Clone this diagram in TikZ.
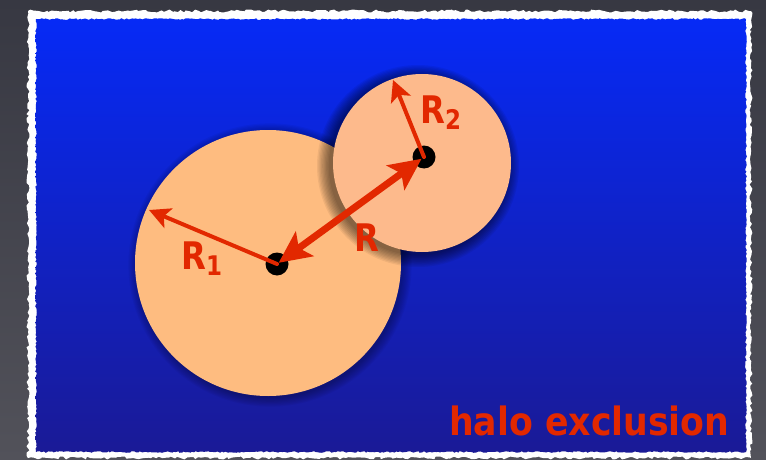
\documentclass[tikz,border=0pt]{standalone}
\usepackage{fontspec}
\newfontfamily\comicfont{DejaVu Sans}
\usetikzlibrary{arrows.meta, decorations.pathmorphing}
\definecolor{slatetop}{RGB}{55,56,66}
\definecolor{slatebottom}{RGB}{82,82,90}
\definecolor{deepblue}{RGB}{6,42,246}
\definecolor{navyblue}{RGB}{26,26,150}
\definecolor{halobig}{RGB}{254,188,128}
\definecolor{halosmall}{RGB}{253,186,140}
\definecolor{arrowred}{RGB}{226,40,0}

\begin{document}
\begin{tikzpicture}[x=1pt, y=-1pt, line cap=round, line join=round,
  halo/.style={circle, inner sep=0pt},
  centre/.style={circle, fill=black, inner sep=0pt, minimum size=23pt},
  thin arrow/.style={arrowred, line width=4pt, -{Stealth[length=21pt, width=21pt, inset=5pt]}},
  thick arrow/.style={arrowred, line width=7pt, {Stealth[length=32pt, width=30pt, inset=7pt]}-{Stealth[length=32pt, width=30pt, inset=7pt]}},
  lettering/.style={text=arrowred, font=\comicfont\bfseries\fontsize{38}{38}\selectfont, anchor=base west, inner sep=0pt}]
  \pgfmathsetseed{7}
  \useasboundingbox (0,0) rectangle (766,460);

  % Backdrop and torn frame
  \shade[top color=slatetop, bottom color=slatebottom] (0,0) rectangle (766,460);
  \fill[white, decorate, decoration={random steps, segment length=3pt, amplitude=1.5pt}]
    (28,11) rectangle (751,458);
  \shade[top color=deepblue, bottom color=navyblue, decorate,
    decoration={random steps, segment length=2pt, amplitude=0.8pt}]
    (36,19) rectangle (746,452);

  % Halo 1 with soft shadow
  \foreach \k in {1,...,8}
    \fill[black, opacity=0.04] (270,265) circle[radius=132+1.2*\k];
  \node[halo, fill=halobig, minimum size=266pt] (halo1) at (268,263) {};

  % Halo 2 with soft shadow
  \foreach \k in {1,...,10}
    \fill[black, opacity=0.06] (418,166) circle[radius=88+1.3*\k];
  \node[halo, fill=halosmall, minimum size=178pt] (halo2) at (422,163) {};

  % Centres
  \node[centre] (c1) at (277,264) {};
  \node[centre] (c2) at (424,157) {};

  % Radii tips on the halo edges
  \coordinate (r1tip) at (149,210);
  \coordinate (r2tip) at (393,80);

  % Arrows
  \draw[thin arrow] (c1.center) -- (r1tip);
  \draw[thin arrow] (c2.center) -- (r2tip);
  \draw[thick arrow, shorten <=2pt, shorten >=3pt] (c1.center) -- (c2.center);

  % Labels
  \node[lettering] (lr1) at (181,269) {\scalebox{0.85}[1]{R}\raisebox{-6pt}{\fontsize{27}{27}\selectfont\scalebox{0.85}[1]{1}}};
  \node[lettering] (lr) at (354,251) {\scalebox{0.85}[1]{R}};
  \node[lettering] (lr2) at (420,123) {\scalebox{0.85}[1]{R}\raisebox{-6pt}{\fontsize{27}{27}\selectfont\scalebox{0.85}[1]{2}}};
  \node[lettering, font=\comicfont\bfseries\fontsize{39}{39}\selectfont] (title) at (449,435) {\scalebox{0.89}[1]{halo exclusion}};
\end{tikzpicture}
\end{document}
